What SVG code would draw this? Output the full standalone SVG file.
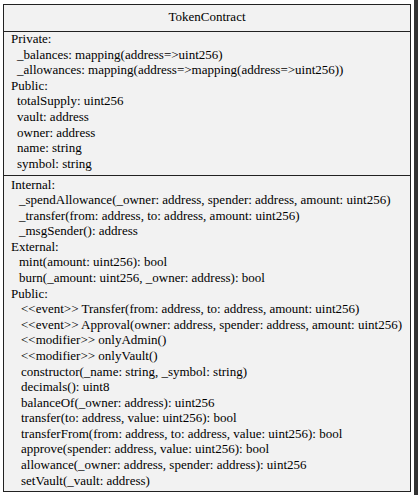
<svg xmlns="http://www.w3.org/2000/svg" width="418" height="495" viewBox="0 0 418 495">
<style>
.box{fill:#f2f2f2;stroke:#222;stroke-width:1}
.sep{stroke:#222;stroke-width:1}
.title{text-anchor:middle}
</style>
<rect x="0" y="0" width="418" height="495" fill="#ffffff"/>
<rect x="414" y="0" width="4" height="495" fill="#333333"/>
<g id="connectors"/>
<g id="TokenContract" font-family="'Liberation Serif', 'Times New Roman', Times, serif" font-size="13" fill="#000">
<rect class="box" x="3.5" y="4.5" width="407" height="487"/>
<line class="sep" x1="3.5" y1="31.5" x2="410.5" y2="31.5"/>
<line class="sep" x1="3.5" y1="175.5" x2="410.5" y2="175.5"/>
<text class="title" x="207" y="21">TokenContract</text>
<text x="11" y="43">Private:</text>
<text x="17" y="58.6">_balances: mapping(address=&gt;uint256)</text>
<text x="17" y="74.2">_allowances: mapping(address=&gt;mapping(address=&gt;uint256))</text>
<text x="11" y="89.8">Public:</text>
<text x="17" y="105.4">totalSupply: uint256</text>
<text x="17" y="121">vault: address</text>
<text x="17" y="136.6">owner: address</text>
<text x="17" y="152.2">name: string</text>
<text x="17" y="167.8">symbol: string</text>
<text x="11" y="188.5">Internal:</text>
<text x="19" y="204.1">_spendAllowance(_owner: address, spender: address, amount: uint256)</text>
<text x="19" y="219.7">_transfer(from: address, to: address, amount: uint256)</text>
<text x="19" y="235.2">_msgSender(): address</text>
<text x="11" y="250.8">External:</text>
<text x="19" y="266.4">mint(amount: uint256): bool</text>
<text x="19" y="282">burn(_amount: uint256, _owner: address): bool</text>
<text x="11" y="297.6">Public:</text>
<text x="21" y="313.1">&lt;&lt;event&gt;&gt; Transfer(from: address, to: address, amount: uint256)</text>
<text x="21" y="328.7">&lt;&lt;event&gt;&gt; Approval(owner: address, spender: address, amount: uint256)</text>
<text x="21" y="344.3">&lt;&lt;modifier&gt;&gt; onlyAdmin()</text>
<text x="21" y="359.9">&lt;&lt;modifier&gt;&gt; onlyVault()</text>
<text x="21" y="375.5">constructor(_name: string, _symbol: string)</text>
<text x="21" y="391.1">decimals(): uint8</text>
<text x="21" y="406.6">balanceOf(_owner: address): uint256</text>
<text x="21" y="422.2">transfer(to: address, value: uint256): bool</text>
<text x="21" y="437.8">transferFrom(from: address, to: address, value: uint256): bool</text>
<text x="21" y="453.4">approve(spender: address, value: uint256): bool</text>
<text x="21" y="469">allowance(_owner: address, spender: address): uint256</text>
<text x="21" y="484.5">setVault(_vault: address)</text>
</g>
</svg>
